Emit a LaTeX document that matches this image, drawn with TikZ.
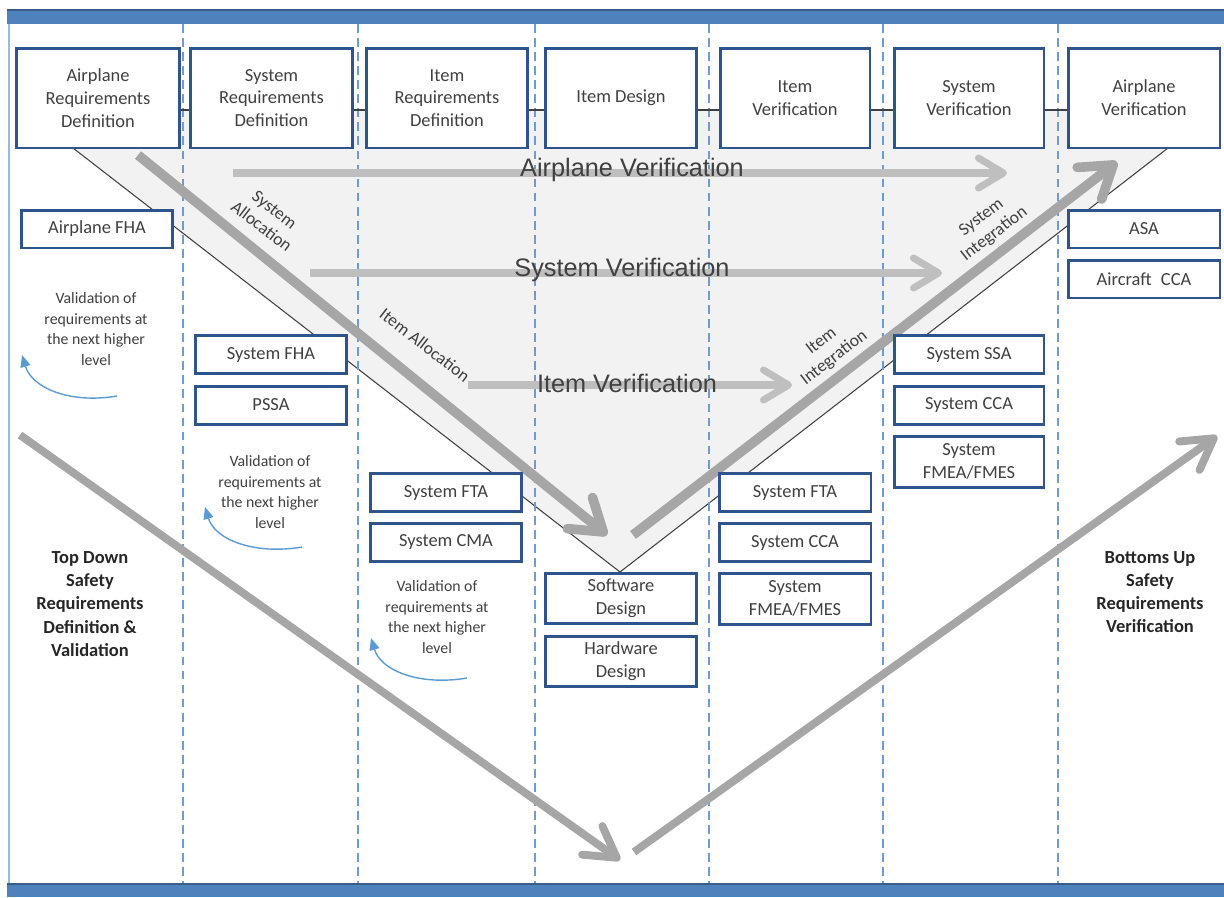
\documentclass[tikz,border=0pt]{standalone}
\usepackage{fontspec}
\setmainfont{Carlito}
\newfontfamily\arialfont{Liberation Sans}
\usepackage{tikz}
\usetikzlibrary{arrows.meta}
\usepackage{xcolor}
\definecolor{boxblue}{RGB}{47,84,140}
\definecolor{barblue}{RGB}{79,129,189}
\definecolor{bardark}{RGB}{56,93,138}
\definecolor{laneblue}{RGB}{110,155,210}
\definecolor{loopblue}{RGB}{91,155,213}
\definecolor{vfill}{RGB}{242,242,242}
\definecolor{flowgray}{RGB}{166,166,166}
\definecolor{verifgray}{RGB}{191,191,191}
\definecolor{inktext}{RGB}{64,64,64}

\begin{document}
\begin{tikzpicture}[
    x=0.02cm,y=-0.02cm,font=\fontsize{10.5}{13}\selectfont,
    stage/.style={draw=boxblue,line width=1.7pt,fill=white,align=center,text=inktext,minimum height=2cm,inner sep=2pt},
    task/.style={draw=boxblue,line width=1.7pt,fill=white,align=center,text=inktext,minimum width=3.04cm,minimum height=0.76cm,inner sep=1pt},
    note/.style={align=center,text=inktext,font=\fontsize{9}{11.6}\selectfont},
    sidelabel/.style={align=center,text=black!85,font=\fontsize{10.5}{13.2}\selectfont\bfseries},
    phase/.style={align=center,text=inktext,font=\fontsize{10}{12}\selectfont},
    level/.style={text=inktext,font=\arialfont\fontsize{14.4}{17}\selectfont},
    lane/.style={laneblue,line width=0.7pt,dash pattern=on 5pt off 3pt},
    flow/.style={flowgray,line width=5.5pt,-{Straight Barb[length=6mm,width=8mm,round]}},
    sweep/.style={flowgray,line width=4.5pt,-{Straight Barb[length=6mm,width=7mm,round]}},
    verif/.style={verifgray,line width=4pt,-{Straight Barb[length=5mm,width=6mm,round]}},
    backarrow/.style={loopblue,line width=0.8pt,-{Triangle[length=2.4mm,width=2mm]}}
]
\useasboundingbox (0,0) rectangle (1224,897);
% Frame bars and border.
\fill[barblue] (7,9) rectangle (1224,24);
\draw[bardark,line width=1.2pt] (7,10) -- (1224,10);
\fill[barblue] (7,883) rectangle (1224,897);
\draw[bardark,line width=1.2pt] (7,884) -- (1224,884);
\draw[laneblue!70,line width=0.9pt] (9,24) -- (9,883);
% Shaded V.
\fill[vfill] (73,110) -- (1168,110) -- (1168,148) -- (620,572) -- (73,148) -- cycle;
\coordinate (vl) at (73,148);
\coordinate (vb) at (620,572);
\coordinate (vr) at (1168,148);
\draw[black!75,line width=0.6pt] (vl) -- (vb) -- (vr);
% Swim lanes.
\foreach \x in {183,358,535,709,883,1058}
    \draw[lane] (\x,24) -- (\x,883);
% Arrow end points.
\coordinate (allocA) at (138,155);
\coordinate (allocB) at (607,535);
\coordinate (integA) at (633,535);
\coordinate (integB) at (1117,162);
\coordinate (avA) at (233,173);
\coordinate (avB) at (1007,173);
\coordinate (svA) at (310,273);
\coordinate (svB) at (942,273);
\coordinate (ivA) at (468,385);
\coordinate (ivB) at (792,385);
\coordinate (tdA) at (20,435);
\coordinate (tdB) at (620,860);
\coordinate (buA) at (634,852);
\coordinate (buB) at (1217,436);
% Verification levels.
\draw[verif] (avA) -- (avB);
\draw[verif] (svA) -- (svB);
\draw[verif] (ivA) -- (ivB);
\node[level] (avlab) at (632,170) {Airplane Verification};
\node[level] (svlab) at (622,270) {System Verification};
\node[level] (ivlab) at (627,383) {Item Verification};
% Allocation and integration.
\draw[flow] (allocA) -- (allocB);
\draw[flow] (integA) -- (integB);
\node[phase,rotate=-37.6] (salloc) at (268,218) {System\\Allocation};
\node[phase,rotate=-37.6] (ialloc) at (425,345) {Item Allocation};
\node[phase,rotate=37.6] (iinteg) at (828,350) {Item\\Integration};
\node[phase,rotate=37.6] (sinteg) at (988,226) {System\\Integration};
% Safety process sweep.
\draw[sweep] (tdA) -- (tdB);
\draw[sweep] (buA) -- (buB);
% Development stages.
\node[stage,minimum width=3.28cm] (ard) at (98,98) {Airplane\\Requirements\\Definition};
\node[stage,minimum width=3.26cm] (srd) at (271.5,98) {System\\Requirements\\Definition};
\node[stage,minimum width=3.24cm] (ird) at (447,98) {Item\\Requirements\\Definition};
\node[stage,minimum width=3.04cm] (idn) at (621,98) {Item Design};
\node[stage,minimum width=3.0cm] (iver) at (795,98) {Item\\Verification};
\node[stage,minimum width=3.0cm] (sver) at (969,98) {System\\Verification};
\node[stage,minimum width=3.04cm] (aver) at (1144,98) {Airplane\\Verification};
\coordinate (conn) at (0,110);
\foreach \a/\b in {ard/srd,srd/ird,ird/idn,idn/iver,iver/sver,sver/aver}
    \draw[black!75,line width=0.6pt] (\a.east |- conn) -- (\b.west |- conn);
% Safety assessments.
\node[task] (afha) at (97,229) {Airplane FHA};
\node[task] (sfha) at (271,354.5) {System FHA};
\node[task] (pssa) at (271,405) {PSSA};
\node[task] (sftaL) at (446,492.5) {System FTA};
\node[task] (scma) at (446,542) {System CMA};
\node[task,minimum height=1cm] (swd) at (621,598) {Software\\Design};
\node[task,minimum height=1cm] (hwd) at (621,661.5) {Hardware\\Design};
\node[task] (sftaR) at (795,492.5) {System FTA};
\node[task] (sccaR) at (795,542.5) {System CCA};
\node[task,minimum height=1.02cm] (sfmeaR) at (795,598.5) {System\\FMEA/FMES};
\node[task,minimum width=3.0cm] (sssa) at (969,354.5) {System SSA};
\node[task,minimum width=3.0cm] (scca) at (969,405) {System CCA};
\node[task,minimum width=3.0cm,minimum height=1.02cm] (sfmea) at (969,461.5) {System\\FMEA/FMES};
\node[task] (asa) at (1144,229) {ASA};
\node[task] (acca) at (1144,279) {Aircraft\enspace CCA};
% Validation loops.
\node[note] (valA) at (96,329) {Validation of\\requirements at\\the next higher\\level};
\node[note] (valB) at (270,492) {Validation of\\requirements at\\the next higher\\level};
\node[note] (valC) at (437,617) {Validation of\\requirements at\\the next higher\\level};
\coordinate (loopA1) at (117,396);
\coordinate (loopA2) at (22,355);
\coordinate (loopB1) at (302,547);
\coordinate (loopB2) at (205,507);
\coordinate (loopC1) at (467,678);
\coordinate (loopC2) at (371,638);
\draw[backarrow] (loopA1) .. controls (70,404) and (32,388) .. (loopA2);
\draw[backarrow] (loopB1) .. controls (255,555) and (215,540) .. (loopB2);
\draw[backarrow] (loopC1) .. controls (420,686) and (381,671) .. (loopC2);
% Side captions.
\node[sidelabel] (topdown) at (90,604) {Top Down\\Safety\\Requirements\\Definition \&\\Validation};
\node[sidelabel] (bottomup) at (1150,592) {Bottoms Up\\Safety\\Requirements\\Verification};
\end{tikzpicture}
\end{document}
